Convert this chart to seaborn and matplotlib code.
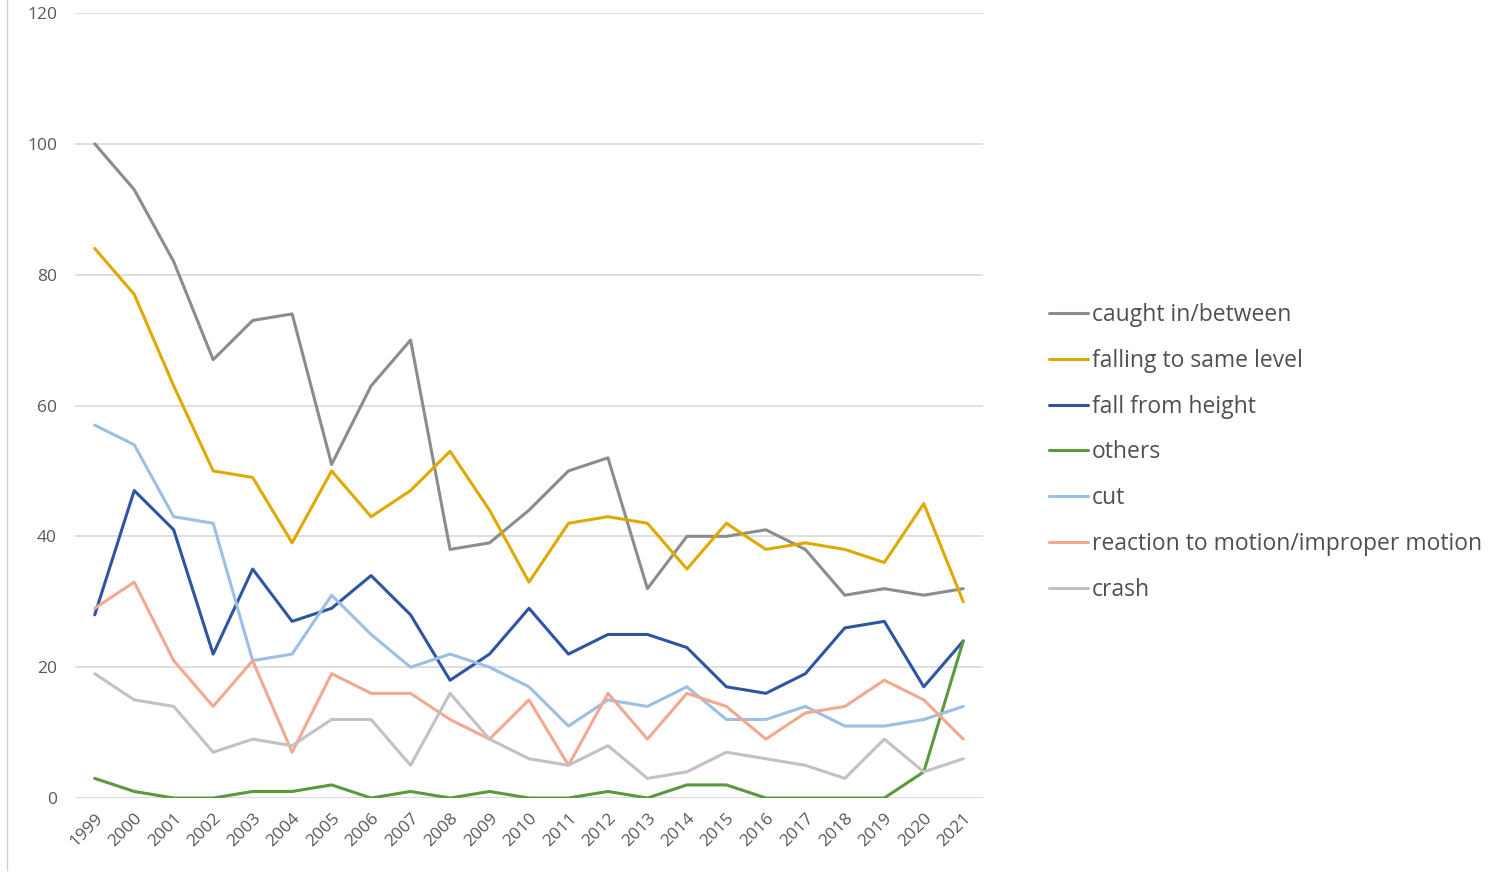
import pandas as pd
import seaborn as sns
import matplotlib.pyplot as plt
from matplotlib.lines import Line2D

years = [str(y) for y in range(1999, 2022)]

caught = [100, 93, 82, 67, 73, 74, 51, 63, 70, 38, 39, 44, 50, 52, 32, 40, 40, 41, 38, 31, 32, 31, 32]
falling_same = [84, 77, 63, 50, 49, 39, 50, 43, 47, 53, 44, 33, 42, 43, 42, 35, 42, 38, 39, 38, 36, 45, 30]
fall_height = [28, 47, 41, 22, 35, 27, 29, 34, 28, 18, 22, 29, 22, 25, 25, 23, 17, 16, 19, 26, 27, 17, 24]
others = [3, 1, 0, 0, 1, 1, 2, 0, 1, 0, 1, 0, 0, 1, 0, 2, 2, 0, 0, 0, 0, 4, 24]
cut = [57, 54, 43, 42, 21, 22, 31, 25, 20, 22, 20, 17, 11, 15, 14, 17, 12, 12, 14, 11, 11, 12, 14]
reaction = [29, 33, 21, 14, 21, 7, 19, 16, 16, 12, 9, 15, 5, 16, 9, 16, 14, 9, 13, 14, 18, 15, 9]
crash = [19, 15, 14, 7, 9, 8, 12, 12, 5, 16, 9, 6, 5, 8, 3, 4, 7, 6, 5, 3, 9, 4, 6]

series_names = ["caught in/between", "falling to same level", "fall from height", "others",
                "cut", "reaction to motion/improper motion", "crash"]
series_vals = [caught, falling_same, fall_height, others, cut, reaction, crash]
colors = ["#8c8c8c", "#dfa900", "#2f55a2", "#5a9a3a", "#9cbfe6", "#f2a98f", "#c2c2c2"]

rows = []
for name, vals in zip(series_names, series_vals):
    for i, v in enumerate(vals):
        rows.append({"pos": i, "year": years[i], "type": name, "count": v})
df = pd.DataFrame(rows)

sns.set_theme(style="white")
plt.rcParams['font.family'] = ['Open Sans', 'DejaVu Sans']

fig = plt.figure(figsize=(14.96, 8.77), dpi=100)
ax = fig.add_axes([75 / 1496, 1 - 798 / 877, (983 - 75) / 1496, (798 - 13) / 877])

sns.lineplot(data=df, x="pos", y="count", hue="type", hue_order=series_names,
             palette=colors, linewidth=2.2, ax=ax, legend=False, zorder=3)

ax.set_xlim(-0.5, len(years) - 0.5)
ax.set_ylim(0, 120)
ax.set_yticks(range(0, 121, 20))
ax.set_xticks(range(len(years)))
ax.set_xticklabels(years, rotation=45, ha="right", rotation_mode="anchor")
ax.tick_params(axis="both", labelsize=12.5, colors="#595959", length=0)
ax.tick_params(axis="y", pad=13)
ax.tick_params(axis="x", pad=9)
ax.set_xlabel("")
ax.set_ylabel("")
ax.grid(axis="y", color="#d9d9d9", linewidth=1.2, zorder=0)
ax.set_axisbelow(True)
for s in ax.spines.values():
    s.set_visible(False)
ax.axhline(0, color="#d9d9d9", linewidth=1.2, zorder=1)

handles = [Line2D([0], [0], color=c, linewidth=2.2) for c in colors]
fig.legend(handles, series_names, loc="upper left", bbox_to_anchor=(1040 / 1496, 1 - 294 / 877),
           frameon=False, fontsize=16.5, labelcolor="#505050", handlelength=1.7,
           handletextpad=0.15, labelspacing=0.95, borderaxespad=0)

# thin chart frame at the left edge
fig.add_artist(Line2D([7 / 1496, 7 / 1496], [1 - 870 / 877, 1], color="#d0d0d0", linewidth=1))

fig.savefig("out.png", dpi=100)
